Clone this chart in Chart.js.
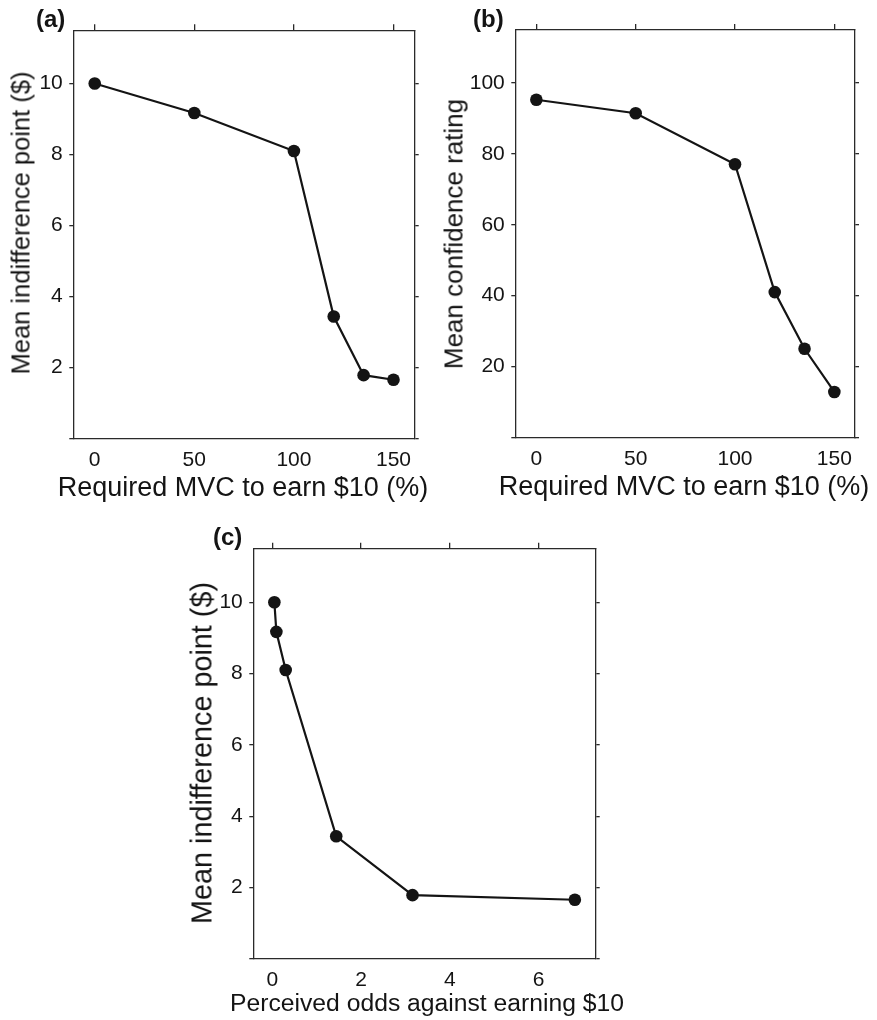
<!DOCTYPE html>
<html>
<head>
<meta charset="utf-8">
<script src="https://cdn.jsdelivr.net/npm/chart.js@4.4.1/dist/chart.umd.min.js"></script>
<style>
  html, body { margin: 0; padding: 0; background: #fff; }
  body { width: 877px; height: 1020px; position: relative; overflow: hidden;
         font-family: "Liberation Sans", Arial, Helvetica, sans-serif; color: #141414; }
  canvas { position: absolute; }
  .tag { position: absolute; font-weight: bold; font-size: 24px; line-height: 24px; }
  .cap { position: absolute; white-space: nowrap; line-height: normal;
         transform: translate(-50%, -50%); }
  .cap.v { transform: translate(-50%, -50%) rotate(-90deg); }
</style>
</head>
<body>
<canvas id="panelA" width="440" height="510" style="left:0;top:0"></canvas>
<canvas id="panelB" width="437" height="510" style="left:440px;top:0"></canvas>
<canvas id="panelC" width="440" height="500" style="left:180px;top:520px"></canvas>

<div class="tag" style="left:36px;top:7px">(a)</div>
<div class="tag" style="left:473px;top:7px">(b)</div>
<div class="tag" style="left:213px;top:525px">(c)</div>

<div class="cap" style="left:243px;top:487px;font-size:27px">Required MVC to earn $10 (%)</div>
<div class="cap v" style="left:20.6px;top:222.5px;font-size:25.5px">Mean indifference point ($)</div>

<div class="cap" style="left:684px;top:486px;font-size:27px">Required MVC to earn $10 (%)</div>
<div class="cap v" style="left:454px;top:234px;font-size:26px">Mean confidence rating</div>

<div class="cap" style="left:427px;top:1003px;font-size:24.7px">Perceived odds against earning $10</div>
<div class="cap v" style="left:201.5px;top:752.5px;font-size:28.8px">Mean indifference point ($)</div>

<script>
// Required effort (% of maximum voluntary contraction) for each condition
const mvc = [0, 50, 100, 120, 135, 150];
// Mean indifference point ($) per condition
const indifference = [10, 9.17, 8.10, 3.44, 1.79, 1.66];
// Mean confidence rating per condition
const confidence = [95.3, 91.5, 77.1, 41.0, 25.0, 12.8];
// Perceived odds against earning $10 per condition
const perceivedOdds = [0.045, 0.09, 0.30, 1.44, 3.16, 6.82];

// Tick positions
const mvcTicks = [0, 50, 100, 150];
const oddsTicks = [0, 2, 4, 6];
const dollarTicks = [0, 2, 4, 6, 8, 10];
const ratingTicks = [0, 20, 40, 60, 80, 100];

const INK = '#141414';
const FRAME = '#2a2a2a';
Chart.defaults.font.family = '"Liberation Sans", Arial, Helvetica, sans-serif';
Chart.defaults.color = INK;

const useTicks = list => scale => { scale.ticks = list.map(v => ({ value: v })); };

function panel(id, o) {
  const points = o.x.map((x, i) => ({ x, y: o.y[i] }));
  const border = { display: true, color: FRAME, width: 1.3 };
  const outerTicks = len => ({ display: true, drawOnChartArea: false, drawTicks: true,
                               tickLength: len, color: FRAME, lineWidth: 1.3 });
  new Chart(document.getElementById(id), {
    type: 'line',
    data: {
      datasets: [{
        data: points,
        borderColor: INK,
        borderWidth: 2.2,
        pointRadius: 6.3,
        pointBackgroundColor: INK,
        pointBorderWidth: 0,
        tension: 0,
        clip: false
      }]
    },
    options: {
      responsive: false,
      animation: false,
      events: [],
      layout: { padding: 0, autoPadding: false },
      plugins: { legend: { display: false }, tooltip: { enabled: false } },
      scales: {
        x: {
          type: 'linear', position: 'bottom', min: o.xMin, max: o.xMax,
          afterBuildTicks: useTicks(o.xTicks),
          afterFit: s => { s.height = o.bottom; },
          grid: { display: false, drawTicks: false },
          border,
          ticks: { autoSkip: false, maxRotation: 0, padding: 9, font: { size: 21 }, color: INK }
        },
        xTop: {
          type: 'linear', position: 'top', min: o.xMin, max: o.xMax,
          afterBuildTicks: useTicks(o.xTicks),
          afterFit: s => { s.height = o.top; },
          grid: outerTicks(6),
          border,
          ticks: { display: false }
        },
        y: {
          type: 'linear', position: 'left', min: o.yMin, max: o.yMax,
          afterBuildTicks: useTicks(o.yTicks),
          afterFit: s => { s.width = o.left; },
          grid: outerTicks(4),
          border,
          ticks: { autoSkip: false, padding: 6.5, font: { size: 21 }, color: INK,
                   callback: v => (v === 0 ? '' : v) }
        },
        yRight: {
          type: 'linear', position: 'right', min: o.yMin, max: o.yMax,
          afterBuildTicks: useTicks(o.yTicks),
          afterFit: s => { s.width = o.right; },
          grid: outerTicks(4),
          border,
          ticks: { display: false }
        }
      }
    }
  });
}

panel('panelA', {
  x: mvc, y: indifference,
  xMin: -10.75, xMax: 160.65, xTicks: mvcTicks,
  yMin: 0, yMax: 11.5, yTicks: dollarTicks,
  left: 73.3, right: 25.3, top: 30.3, bottom: 71.3
});

panel('panelB', {
  x: mvc, y: confidence,
  xMin: -10.6, xMax: 160.4, xTicks: mvcTicks,
  yMin: 0, yMax: 115, yTicks: ratingTicks,
  left: 75.3, right: 22, top: 30, bottom: 72.7
});

panel('panelC', {
  x: perceivedOdds, y: indifference,
  xMin: -0.43, xMax: 7.29, xTicks: oddsTicks,
  yMin: 0, yMax: 11.5, yTicks: dollarTicks,
  left: 73.3, right: 24.3, top: 28.7, bottom: 61
});
</script>
</body>
</html>
